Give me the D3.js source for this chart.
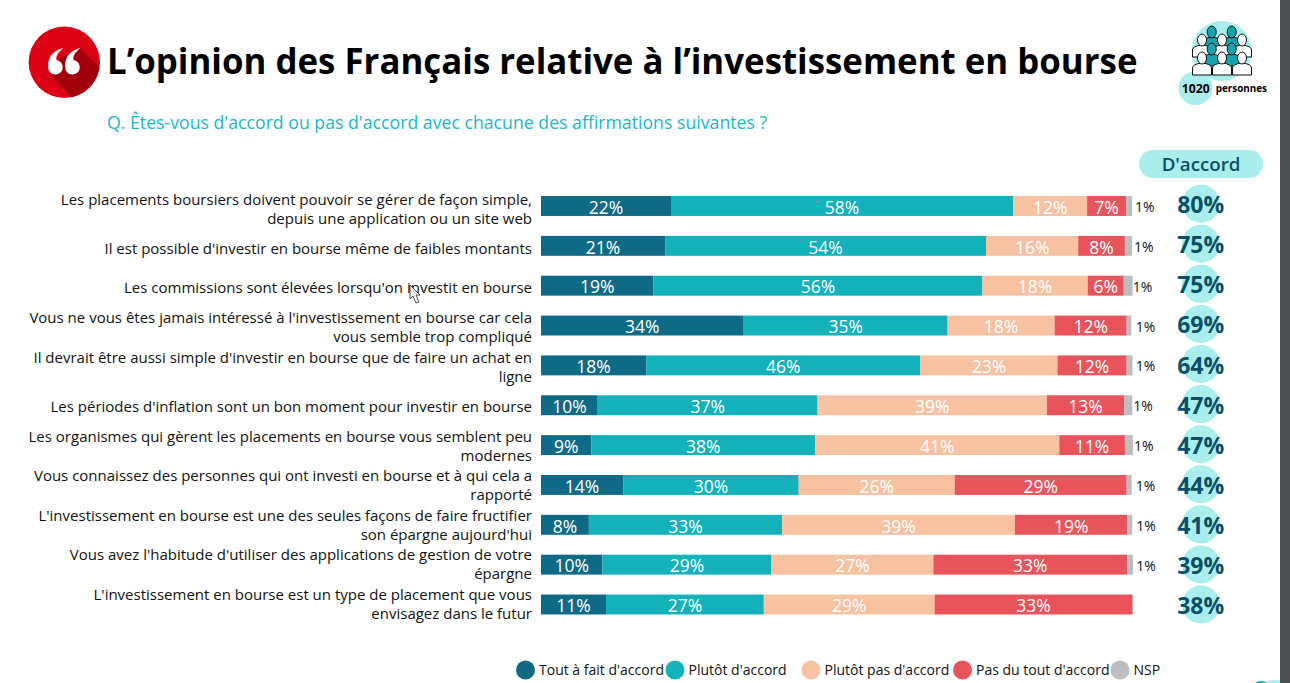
<!DOCTYPE html>
<html>
<head>
<meta charset="utf-8">
<script src="https://cdn.jsdelivr.net/npm/d3@7"></script>
<style>
  html, body { margin: 0; padding: 0; background: #fff; overflow: hidden; }
  text { font-family: "Open Sans", "Noto Sans", sans-serif; }
</style>
</head>
<body>
<svg id="chart" width="1290" height="683"></svg>
<script>
// Chart data
const questions = [
    ["Les placements boursiers doivent pouvoir se gérer de façon simple,", "depuis une application ou un site web"],
    ["Il est possible d'investir en bourse même de faibles montants"],
    ["Les commissions sont élevées lorsqu'on investit en bourse"],
    ["Vous ne vous êtes jamais intéressé à l'investissement en bourse car cela", "vous semble trop compliqué"],
    ["Il devrait être aussi simple d'investir en bourse que de faire un achat en", "ligne"],
    ["Les périodes d'inflation sont un bon moment pour investir en bourse"],
    ["Les organismes qui gèrent les placements en bourse vous semblent peu", "modernes"],
    ["Vous connaissez des personnes qui ont investi en bourse et à qui cela a", "rapporté"],
    ["L'investissement en bourse est une des seules façons de faire fructifier", "son épargne aujourd'hui"],
    ["Vous avez l'habitude d'utiliser des applications de gestion de votre", "épargne"],
    ["L'investissement en bourse est un type de placement que vous", "envisagez dans le futur"]
];
const seriesNames = ["Tout à fait d'accord", "Plutôt d'accord", "Plutôt pas d'accord", "Pas du tout d'accord", "NSP"];
const seriesColors = ["#0f6b85", "#13b1ba", "#f7c2a2", "#e9535b", "#bdbdbd"];

// Unrounded lengths, as measured on the bars
const toutAFait = [22.0, 21.0, 19.0, 34.3, 17.8, 9.6, 8.5, 13.9, 8.1, 10.4, 11.0];
const plutot = [57.9, 54.3, 55.7, 34.5, 46.4, 37.2, 37.9, 29.7, 32.7, 28.6, 26.7];
const plutotPas = [12.5, 15.6, 17.8, 18.1, 23.2, 38.8, 41.3, 26.4, 39.4, 27.4, 28.9];
const pasDuTout = [6.6, 7.9, 6.1, 12.2, 11.7, 13.1, 11.1, 29.1, 19.0, 32.8, 33.5];
const nsp = [1.0, 1.2, 1.5, 0.8, 1.0, 1.35, 1.35, 0.85, 0.85, 0.95, 0];
const seriesValues = [toutAFait, plutot, plutotPas, pasDuTout, nsp];

// Percentages as printed
const toutAFaitLabels = [22, 21, 19, 34, 18, 10, 9, 14, 8, 10, 11];
const plutotLabels = [58, 54, 56, 35, 46, 37, 38, 30, 33, 29, 27];
const plutotPasLabels = [12, 16, 18, 18, 23, 39, 41, 26, 39, 27, 29];
const pasDuToutLabels = [7, 8, 6, 12, 12, 13, 11, 29, 19, 33, 33];
const nspLabels = [1, 1, 1, 1, 1, 1, 1, 1, 1, 1, null];
const seriesLabels = [toutAFaitLabels, plutotLabels, plutotPasLabels, pasDuToutLabels, nspLabels];
const totalAccord = [80, 75, 75, 69, 64, 47, 47, 44, 41, 39, 38];

const svg = d3.select("#chart");

// Scales
const x = d3.scaleLinear().domain([0, 100]).range([541, 1132]);
const y = d3.scaleBand().domain(d3.range(questions.length)).range([176.1, 634.4]).padding(0.5);
const yTotal = d3.scalePoint().domain(d3.range(questions.length)).range([203.7, 604.5]);
const yLabel = d3.scalePoint().domain(d3.range(questions.length)).range([206.5, 602]);
const rowMid = i => y(i) + y.bandwidth() / 2;

// Right hand dark strip (window edge)
svg.append("rect").attr("x", 1280).attr("y", 0).attr("width", 10).attr("height", 683).attr("fill", "#4d5154");

// Bits of the next element peeking in at the bottom right
svg.append("circle").attr("cx", 1275).attr("cy", 702).attr("r", 22).attr("fill", "#a9eded");
svg.append("circle").attr("cx", 1261).attr("cy", 692).attr("r", 11).attr("fill", "#13b1ba");
svg.append("rect").attr("x", 1280).attr("y", 670).attr("width", 10).attr("height", 13).attr("fill", "#4d5154");

// Title badge
svg.append("circle").attr("cx", 64.3).attr("cy", 62.2).attr("r", 35.7).attr("fill", "#dc0014");
svg.append("clipPath").attr("id", "badge-clip").append("circle").attr("cx", 64.3).attr("cy", 62.2).attr("r", 35.7);
svg.append("path")
    .attr("clip-path", "url(#badge-clip)")
    .attr("d", "M80 48 L106 74 L76 102 L50 74 L60 58 Z")
    .attr("fill", "#a1000c");
[55.5, 72.5].forEach(cx => {
    svg.append("path")
        .attr("d", `M${cx - 7.3} 67 C${cx - 8} 57 ${cx - 2} 50 ${cx + 8} 48 C${cx + 3} 52 ${cx} 56 ${cx + 1} 60 A7.3 7.3 0 1 1 ${cx - 7.3} 67 Z`)
        .attr("fill", "#fff");
});

// Title and question
svg.append("text")
    .attr("x", 107).attr("y", 74)
    .attr("font-size", 34.85)
    .attr("font-weight", 700)
    .attr("fill", "#000")
    .text("L’opinion des Français relative à l’investissement en bourse");
svg.append("text")
    .attr("x", 107).attr("y", 128.5)
    .attr("font-size", 17.7)
    .attr("fill", "#1ab6c6")
    .text("Q. Êtes-vous d'accord ou pas d'accord avec chacune des affirmations suivantes ?");

// Sample size badge
svg.append("circle").attr("cx", 1221.7).attr("cy", 51).attr("r", 30).attr("fill", "#a9eded");
svg.append("circle").attr("cx", 1195.5).attr("cy", 88.3).attr("r", 17).attr("fill", "#a9eded");
const crowd = svg.append("g").attr("stroke", "#111").attr("stroke-width", 1);
const crowdRows = [
    { cy: 32, xs: [1211.7, 1231.7], fill: "#13a5ae" },
    { cy: 40, xs: [1202, 1222, 1242], fill: "#fff" },
    { cy: 49, xs: [1211.7, 1231.7], fill: "#13a5ae" },
    { cy: 58, xs: [1202, 1222, 1242], fill: "#fff" }
];
crowdRows.forEach(r => {
    r.xs.forEach(cx => {
        crowd.append("path")
            .attr("d", `M${cx - 9.5} ${r.cy + 17} v-7 q0 -4 9.5 -5 q9.5 1 9.5 5 v7 z`)
            .attr("fill", r.fill);
        crowd.append("ellipse")
            .attr("cx", cx).attr("cy", r.cy)
            .attr("rx", 4.5).attr("ry", 6)
            .attr("fill", r.fill);
    });
});
svg.append("text").attr("x", 1195.7).attr("y", 92.5).attr("text-anchor", "middle")
    .attr("font-size", 12.2).attr("font-weight", 700).attr("fill", "#000").text("1020");
svg.append("text").attr("x", 1215.7).attr("y", 92)
    .attr("font-size", 9.9).attr("font-weight", 700).attr("fill", "#000").text("personnes");

// D'accord header
svg.append("rect").attr("x", 1139).attr("y", 150).attr("width", 124).attr("height", 28).attr("rx", 14).attr("fill", "#a9eded");
svg.append("text").attr("x", 1201).attr("y", 171).attr("text-anchor", "middle")
    .attr("font-size", 18.7).attr("font-weight", 600).attr("fill", "#0b4f66").text("D'accord");

// Question labels
const labels = svg.append("g").selectAll("text").data(questions).join("text")
    .attr("text-anchor", "end")
    .attr("font-size", 15)
    .attr("fill", "#111");
labels.each(function (lines, i) {
    const start = yLabel(i) + 7.5 - (lines.length - 1) * 9.5;
    d3.select(this).selectAll("tspan").data(lines).join("tspan")
        .attr("x", 532)
        .attr("y", (d, k) => start + k * 19)
        .text(d => d);
});

// Mouse pointer left in the screenshot
svg.append("path")
    .attr("d", "M410 285 L410 299 L413 296 L416 303 L419 302 L416 295 L420 295 Z")
    .attr("fill", "#fff")
    .attr("stroke", "#222")
    .attr("stroke-width", 0.8);

// Stacked bars
seriesValues.forEach((values, s) => {
    const g = svg.append("g");
    const lefts = values.map((v, i) => d3.sum(seriesValues.slice(0, s), a => a[i]));
    g.selectAll("rect").data(values).join("rect")
        .attr("x", (d, i) => x(lefts[i]))
        .attr("y", (d, i) => y(i))
        .attr("width", d => x(d) - x(0))
        .attr("height", y.bandwidth())
        .attr("fill", seriesColors[s]);
    if (s < 4) {
        g.selectAll("text").data(seriesLabels[s]).join("text")
            .attr("x", (d, i) => x(lefts[i] + values[i] / 2))
            .attr("y", (d, i) => rowMid(i) + 7.7)
            .attr("text-anchor", "middle")
            .attr("font-size", 17.5)
            .attr("fill", "#fff")
            .text(d => d + "%");
    } else {
        g.selectAll("text").data(seriesLabels[s]).join("text")
            .attr("x", (d, i) => x(lefts[i]) + 9)
            .attr("y", (d, i) => rowMid(i) + 6)
            .attr("font-size", 14)
            .attr("fill", "#111")
            .text(d => d === null ? "" : d + "%");
    }
});

// Agreement totals
const totals = svg.append("g");
totals.selectAll("circle").data(totalAccord).join("circle")
    .attr("cx", 1201)
    .attr("cy", (d, i) => yTotal(i))
    .attr("r", 19)
    .attr("fill", "#a9eded");
totals.selectAll("text").data(totalAccord).join("text")
    .attr("x", 1200.7)
    .attr("y", (d, i) => yTotal(i) + 9.5)
    .attr("text-anchor", "middle")
    .attr("font-size", 23)
    .attr("font-weight", 700)
    .attr("fill", "#0b4f66")
    .text(d => d + "%");

// Legend
const legendX = [525.5, 675, 811, 962.5, 1120];
const legend = svg.append("g").selectAll("g").data(seriesNames).join("g")
    .attr("transform", (d, i) => `translate(${legendX[i]},670)`);
legend.append("circle").attr("r", 9.5).attr("fill", (d, i) => seriesColors[i]);
legend.append("text").attr("x", 13.5).attr("y", 5)
    .attr("font-size", 14).attr("fill", "#111").text(d => d);
</script>
</body>
</html>
